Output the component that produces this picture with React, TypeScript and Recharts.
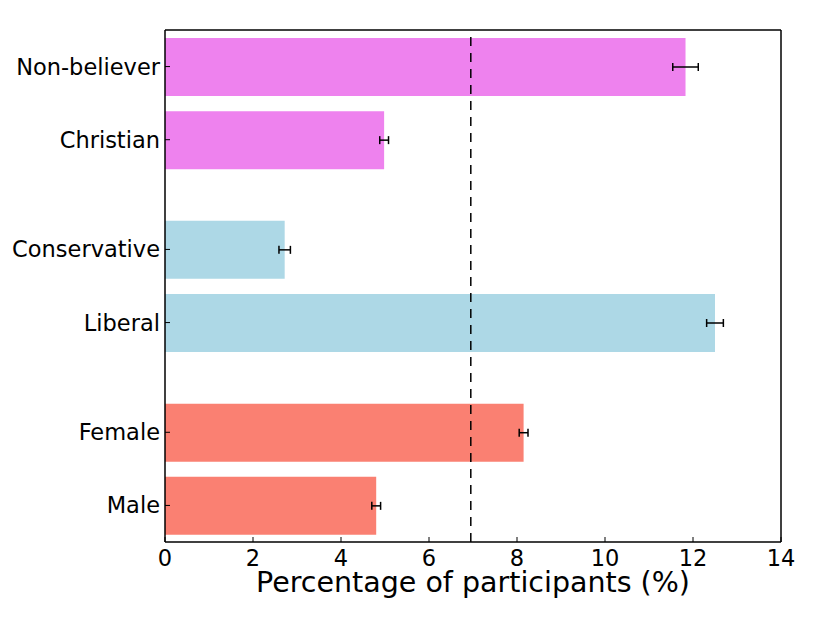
import {
  ComposedChart,
  Bar,
  Cell,
  ErrorBar,
  XAxis,
  YAxis,
  ReferenceLine,
} from 'recharts';

const groups = ['Non-believer', 'Christian', 'Conservative', 'Liberal', 'Female', 'Male'];
// vertical slot of each group, counted from the top
const slots = [0, 1, 2.5, 3.5, 5, 6];
const percents = [11.83, 4.98, 2.72, 12.5, 8.15, 4.8];
const errors = [0.29, 0.1, 0.13, 0.19, 0.1, 0.1];
const colors = ['#EE82EE', '#EE82EE', '#ADD8E6', '#ADD8E6', '#FA8072', '#FA8072'];
const xTicks = [0, 2, 4, 6, 8, 10, 12, 14];
const baseline = 6.95;

const data = groups.map((g, i) => ({
  name: g,
  slot: slots[i],
  value: percents[i],
  err: errors[i],
}));

const font = { fontFamily: 'DejaVu Sans', fontSize: 22.5, fill: '#000' };
const axisLine = { stroke: '#000', strokeWidth: 1.5 };
const tickLine = { stroke: '#000', strokeWidth: 1 };

const slotLabel = (v: number) => {
  const i = slots.indexOf(v);
  return i >= 0 ? groups[i] : '';
};

export default function App() {
  return (
    <div style={{ position: 'absolute', left: 0, top: 0, background: '#fff' }}>
      <ComposedChart
        width={822}
        height={617}
        data={data}
        layout='vertical'
        margin={{ top: 29, right: 40, bottom: 5, left: 0 }}
      >
        <XAxis
          type='number'
          dataKey='value'
          domain={[0, 14]}
          ticks={xTicks}
          allowDataOverflow
          height={70}
          tickSize={-5}
          tickMargin={13}
          tick={font}
          axisLine={axisLine}
          tickLine={tickLine}
          label={{
            value: 'Percentage of participants (%)',
            position: 'insideBottom',
            offset: 20,
            style: { fontFamily: 'DejaVu Sans', fontSize: 28.5, fill: '#000' },
          }}
        />
        <XAxis
          xAxisId='top'
          orientation='top'
          type='number'
          domain={[0, 14]}
          ticks={xTicks}
          allowDataOverflow
          height={1}
          tickSize={-5}
          tick={false}
          axisLine={axisLine}
          tickLine={tickLine}
        />
        <YAxis
          type='number'
          dataKey='slot'
          domain={[-0.5, 6.5]}
          ticks={slots}
          allowDataOverflow
          width={165}
          tickSize={-5}
          tickMargin={10}
          tick={font}
          tickFormatter={slotLabel}
          axisLine={axisLine}
          tickLine={tickLine}
        />
        <YAxis
          yAxisId='right'
          orientation='right'
          type='number'
          domain={[-0.5, 6.5]}
          ticks={slots}
          allowDataOverflow
          width={1}
          tickSize={-5}
          tick={false}
          axisLine={axisLine}
          tickLine={tickLine}
        />
        <Bar dataKey='value' barSize={58} isAnimationActive={false}>
          {data.map((d, i) => (
            <Cell key={d.name} fill={colors[i]} />
          ))}
          <ErrorBar
            dataKey='err'
            direction='x'
            width={4}
            stroke='#000'
            strokeWidth={1.5}
            isAnimationActive={false}
          />
        </Bar>
        <ReferenceLine
          x={baseline}
          stroke='#000'
          strokeWidth={1.5}
          strokeDasharray='9 7'
        />
      </ComposedChart>
    </div>
  );
}
